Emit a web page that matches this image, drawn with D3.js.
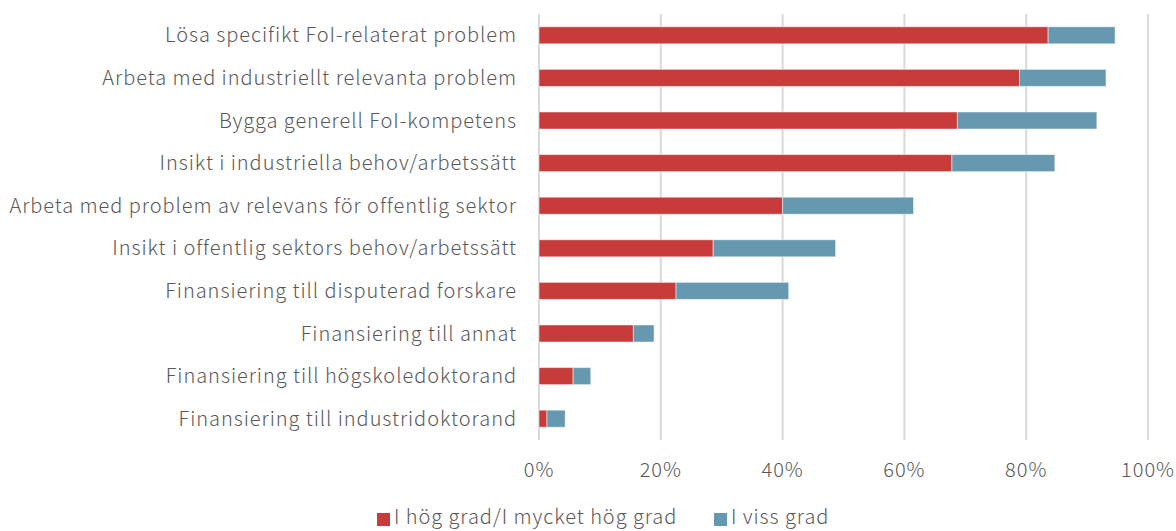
<!DOCTYPE html>
<html>
<head>
<meta charset="utf-8">
<script src="https://cdn.jsdelivr.net/npm/d3@7"></script>
<style>
  body { margin: 0; background: #fff; }
  svg text { font-family: "Noto Sans CJK JP", "Noto Sans", sans-serif; font-weight: 300; fill: #595959; letter-spacing: 0.95px; }
</style>
</head>
<body>
<svg id="chart" width="1176" height="531"></svg>
<script>
const categories = [
  "Lösa specifikt FoI-relaterat problem",
  "Arbeta med industriellt relevanta problem",
  "Bygga generell FoI-kompetens",
  "Insikt i industriella behov/arbetssätt",
  "Arbeta med problem av relevans för offentlig sektor",
  "Insikt i offentlig sektors behov/arbetssätt",
  "Finansiering till disputerad forskare",
  "Finansiering till annat",
  "Finansiering till högskoledoktorand",
  "Finansiering till industridoktorand"
];
const hog = [83.6, 78.9, 68.7, 67.8, 40.0, 28.6, 22.5, 15.5, 5.6, 1.3];
const viss = [11.0, 14.2, 22.9, 16.9, 21.5, 20.1, 18.5, 3.4, 2.9, 3.0];
const seriesNames = ["I hög grad/I mycket hög grad", "I viss grad"];
const colors = ["#C83B3B", "#6699B0"];
const xTicks = [0, 20, 40, 60, 80, 100];

const svg = d3.select("#chart");
const margin = {top: 14, left: 539, right: 28, bottom: 91};
const width = 1176 - margin.left - margin.right;
const height = 531 - margin.top - margin.bottom;

const g = svg.append("g").attr("transform", "translate(" + margin.left + "," + margin.top + ")");

const x = d3.scaleLinear().domain([0, 100]).range([0, width]);
const y = d3.scaleBand().domain(categories).range([0, height]).paddingInner(0.6).paddingOuter(0.3);

// gridlines
g.selectAll(".grid")
  .data(xTicks)
  .enter().append("line")
  .attr("x1", d => x(d)).attr("x2", d => x(d))
  .attr("y1", 0).attr("y2", height)
  .attr("stroke", "#d9d9d9")
  .attr("stroke-width", 2);

const rows = categories.map((c, i) => ({cat: c, vals: [hog[i], viss[i]]}));

rows.forEach(r => {
  let start = 0;
  r.vals.forEach((v, j) => {
    g.append("rect")
      .attr("x", x(start))
      .attr("y", y(r.cat))
      .attr("width", x(start + v) - x(start))
      .attr("height", y.bandwidth())
      .attr("fill", colors[j])
      .attr("stroke", "#ffffff")
      .attr("stroke-opacity", 0.5)
      .attr("stroke-width", 1);
    start += v;
  });
});

// category labels
g.selectAll(".cat")
  .data(categories)
  .enter().append("text")
  .attr("x", -22)
  .attr("y", d => y(d) + y.bandwidth() / 2)
  .attr("dy", "0.35em")
  .attr("text-anchor", "end")
  .style("font-size", "20px")
  .text(d => d);

// x axis labels
g.selectAll(".xt")
  .data(xTicks)
  .enter().append("text")
  .attr("x", d => x(d))
  .attr("y", height + 30)
  .attr("dy", "0.35em")
  .attr("text-anchor", "middle")
  .style("font-size", "20px")
  .text(d => d + "%");

// legend
const legend = svg.append("g").attr("transform", "translate(377,517)");
const legX = [0, 337];
seriesNames.forEach((s, i) => {
  legend.append("rect")
    .attr("x", legX[i]).attr("y", -4)
    .attr("width", 13).attr("height", 13)
    .attr("fill", colors[i]);
  legend.append("text")
    .attr("x", legX[i] + 17).attr("y", 0)
    .attr("dy", "0.35em")
    .style("font-size", "20px")
    .text(s);
});
</script>
</body>
</html>
